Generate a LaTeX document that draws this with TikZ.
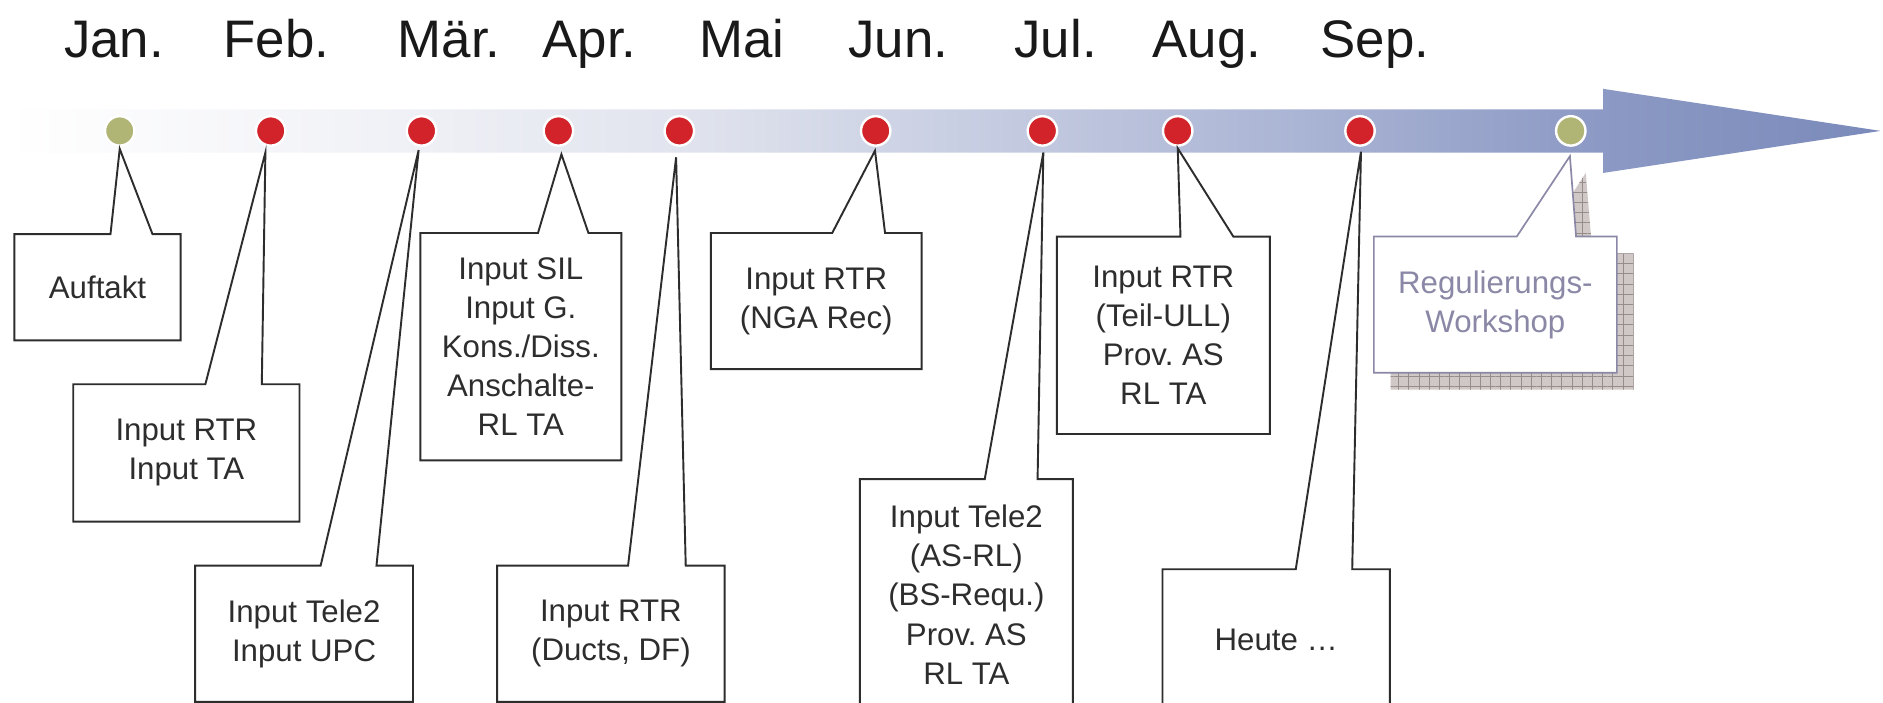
\documentclass[tikz,border=0pt]{standalone}
\usepackage{fontspec}
\setmainfont{Liberation Sans}
\frenchspacing
\usetikzlibrary{patterns.meta}
\pgfdeclarelayer{back}
\pgfdeclarelayer{mid}
\pgfsetlayers{back,mid,main}
\definecolor{dotred}{RGB}{210,35,42}
\definecolor{dotolive}{RGB}{176,180,117}
\definecolor{txt}{RGB}{45,45,45}
\definecolor{wsgray}{RGB}{138,136,166}
\definecolor{shadowbg}{RGB}{208,200,198}
\definecolor{shadowln}{RGB}{150,140,138}
\definecolor{bandA}{RGB}{240,241,246}
\definecolor{bandB}{RGB}{225,228,238}
\definecolor{bandC}{RGB}{170,180,212}
\definecolor{bandD}{RGB}{140,153,196}
\definecolor{bandE}{RGB}{122,138,186}
\pgfdeclarehorizontalshading{bandshade}{100bp}{%
  color(0bp)=(white); color(25bp)=(white);
  color(35.5bp)=(bandA);
  color(43bp)=(bandB);
  color(59.5bp)=(bandC);
  color(67.5bp)=(bandD);
  color(75bp)=(bandE);
  color(100bp)=(bandE)}
\newcommand{\calloutpath}[4]{(#1.north west) -- ([xshift=#3pt]#1.north west) -- (#2) -- ([xshift=#4pt]#1.north west) -- (#1.north east) -- (#1.south east) -- (#1.south west) -- cycle}
\tikzset{
  month/.style={font=\fontsize{44}{50}\selectfont, text=black!90, anchor=base, inner sep=0pt},
  tdot/.style={circle, minimum size=24.5pt, inner sep=0pt, draw=white, line width=2pt},
  cbox/.style={anchor=north west, inner sep=0pt, align=center, text=txt, font=\fontsize{26}{32.5}\selectfont},
  cline/.style={draw=txt, line width=1.6pt, fill=white, line join=miter},
  wsline/.style={draw=wsgray, line width=1.4pt, fill=white, line join=miter},
}
\begin{document}
\begin{tikzpicture}[x=1pt,y=-1pt]
\useasboundingbox (0,0) rectangle (1568,585);
% months
\node[month] (m1) at (95,48) {Jan.};
\node[month] (m2) at (230,48) {Feb.};
\node[month] (m3) at (374,48) {Mär.};
\node[month] (m4) at (491,48) {Apr.};
\node[month] (m5) at (618,48) {Mai};
\node[month] (m6) at (748,48) {Jun.};
\node[month] (m7) at (879,48) {Jul.};
\node[month] (m8) at (1005,48) {Aug.};
\node[month] (m9) at (1145,48) {Sep.};
% arrow band and dots
\begin{pgfonlayer}{back}
\fill[white] (0,0) rectangle (1568,585);
\shade[shading=bandshade] (5,91) -- (1335,91) -- (1335,74) -- (1566,109) -- (1335,144) -- (1335,127) -- (5,127) -- cycle;
\node[tdot, fill=dotolive] (d1) at (99.7,109) {};
\node[tdot, fill=dotred] (d2) at (225.4,109) {};
\node[tdot, fill=dotred] (d3) at (351,109) {};
\node[tdot, fill=dotred] (d4) at (465,109) {};
\node[tdot, fill=dotred] (d5) at (565.7,109) {};
\node[tdot, fill=dotred] (d6) at (729.2,109) {};
\node[tdot, fill=dotred] (d7) at (868,109) {};
\node[tdot, fill=dotred] (d8) at (980.7,109) {};
\node[tdot, fill=dotred] (d9) at (1132.5,109) {};
\node[tdot, fill=dotolive] (d10) at (1308,109) {};
\end{pgfonlayer}
% pointer tips
\coordinate (t1) at (99.7,124);
\coordinate (t2) at (221,127);
\coordinate (t3) at (348.6,125);
\coordinate (t4) at (467.5,128.5);
\coordinate (t5) at (563,131);
\coordinate (t6) at (728.6,125.5);
\coordinate (t7) at (868.8,127);
\coordinate (t8) at (980.7,123.5);
\coordinate (t9) at (1133.3,126.3);
\coordinate (t10) at (1307.3,130);
\coordinate (t10s) at (1320.5,144);
% callout texts
\node[cbox, minimum width=138pt, minimum height=88pt] (c1) at (12,195) {Auftakt};
\node[cbox, minimum width=188pt, minimum height=114pt] (c2) at (61,320) {Input RTR\\Input TA};
\node[cbox, minimum width=181pt, minimum height=113pt] (c3) at (162.5,471) {Input Tele2\\Input UPC};
\node[cbox, minimum width=167pt, minimum height=189pt] (c4) at (350,194) {Input SIL\\Input G.\\Kons./Diss.\\Anschalte-\\RL TA};
\node[cbox, minimum width=189pt, minimum height=113pt] (c5) at (414,471) {Input RTR\\(Ducts, DF)};
\node[cbox, minimum width=175pt, minimum height=113pt] (c6) at (592,194) {Input RTR\\(NGA Rec)};
\node[cbox, minimum width=177pt, minimum height=192pt] (c7) at (716,399) {Input Tele2\\(AS-RL)\\(BS-Requ.)\\Prov. AS\\RL TA};
\node[cbox, minimum width=177pt, minimum height=164pt] (c8) at (880,197) {Input RTR\\(Teil-ULL)\\Prov. AS\\RL TA};
\node[cbox, minimum width=189pt, minimum height=118pt] (c9) at (968,474) {Heute …};
\node[cbox, minimum width=202pt, minimum height=113pt, text=wsgray] (c10) at (1144,197) {Regulierungs-\\Workshop};
\node[cbox, minimum width=202pt, minimum height=113pt] (c10s) at (1158,211) {};
% callout outlines
\begin{pgfonlayer}{mid}
\draw[cline] \calloutpath{c1}{t1}{80}{115};
\draw[cline] \calloutpath{c2}{t2}{110}{157};
\draw[cline] \calloutpath{c3}{t3}{104.5}{151};
\draw[cline] \calloutpath{c4}{t4}{98}{140};
\draw[cline] \calloutpath{c5}{t5}{109}{157};
\draw[cline] \calloutpath{c6}{t6}{101}{145};
\draw[cline] \calloutpath{c7}{t7}{104}{148};
\draw[cline] \calloutpath{c8}{t8}{103}{147};
\draw[cline] \calloutpath{c9}{t9}{111}{158};
\fill[shadowbg] \calloutpath{c10s}{t10s}{119}{168};
\fill[pattern={Hatch[angle=0,distance=8.5pt,line width=0.6pt]}, pattern color=shadowln] \calloutpath{c10s}{t10s}{119}{168};
\draw[wsline] \calloutpath{c10}{t10}{119}{168.4};
\end{pgfonlayer}
\end{tikzpicture}
\end{document}
